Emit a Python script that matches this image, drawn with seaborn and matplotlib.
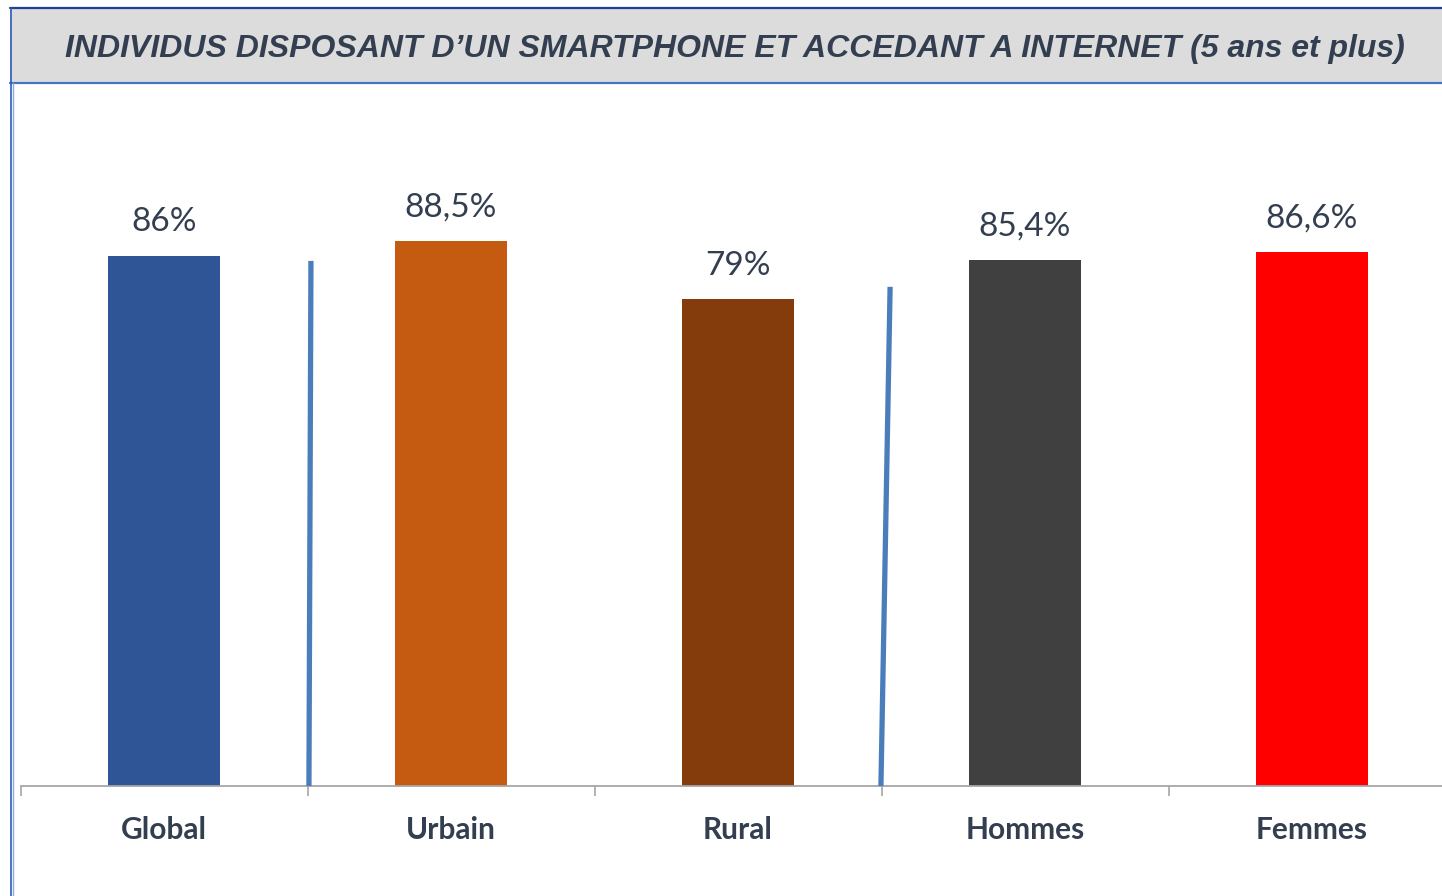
import pandas as pd
import seaborn as sns
import matplotlib.pyplot as plt
from matplotlib.patches import Rectangle
from matplotlib.lines import Line2D

# Data
categories = ["Global", "Urbain", "Rural", "Hommes", "Femmes"]
values = [86.0, 88.5, 79.0, 85.4, 86.6]
value_labels = ["86%", "88,5%", "79%", "85,4%", "86,6%"]
bar_colors = ["#2F5597", "#C55A11", "#843C0C", "#404040", "#FF0000"]

# Blue separator strokes (x in category units, y in %)
sep_x_top = [0.512, 2.530]
sep_x_bottom = [0.505, 2.498]
sep_y_top = [85.2, 81.0]

TITLE = "INDIVIDUS DISPOSANT D\u2019UN SMARTPHONE ET ACCEDANT A INTERNET (5 ans et plus)"
TEXT_COLOR = "#333F50"

sns.set_style("white")
plt.rcParams['font.family'] = ['Lato', 'DejaVu Sans']

W, H = 1442, 896
fig = plt.figure(figsize=(W / 100, H / 100), dpi=100)

# axes placed in pixel terms: baseline at y=786, left boundary at x=20.5
px_per_cat = 287
px_per_pct = 6.163
left_px, base_px = 20.5, 786
ymax = 110
ax = fig.add_axes([left_px / W, (H - base_px) / H, (W - left_px) / W, ymax * px_per_pct / H])

df = pd.DataFrame({"cat": categories, "val": values})
sns.barplot(data=df, x="cat", y="val", hue="cat", palette=bar_colors,
            width=0.39, legend=False, ax=ax, saturation=1, linewidth=0)

for i, (v, lab) in enumerate(zip(values, value_labels)):
    ax.text(i, v + 3.0, lab, ha="center", va="bottom", fontsize=24,
            color=TEXT_COLOR)

for xt, xb, yt in zip(sep_x_top, sep_x_bottom, sep_y_top):
    ax.plot([xb, xt], [0, yt], color="#4A7EBB", lw=3.8, solid_capstyle="butt",
            zorder=3)

# axis styling
for s in ["top", "right", "left"]:
    ax.spines[s].set_visible(False)
ax.spines["bottom"].set_color("#A6A6A6")
ax.spines["bottom"].set_linewidth(1.3)
ax.set_yticks([])
ax.set_xlabel("")
ax.set_ylabel("")
ax.set_xticks(range(len(categories)))
ax.set_xticklabels(categories, fontsize=21.5, fontweight="bold", color=TEXT_COLOR)
ax.tick_params(axis="x", which="major", length=0, pad=21.5)
ax.set_xticks([i - 0.5 for i in range(len(categories) + 1)], minor=True)
ax.tick_params(axis="x", which="minor", bottom=True, length=7.5, width=1.2,
               color="#A6A6A6", direction="out")

# limits last so tick setting can't widen them
ax.set_xlim(-0.5, -0.5 + (W - left_px) / px_per_cat)
ax.set_ylim(0, ymax)

# title box
fig.patches.append(Rectangle((10 / W, 1 - 83 / H), (W - 10) / W, 75 / H,
                             transform=fig.transFigure, facecolor="#DCDCDC",
                             edgecolor="none", zorder=0))
fig.add_artist(Line2D([10 / W, 1], [1 - 8 / H] * 2, color="#1F3F99", lw=1.6))
fig.add_artist(Line2D([10 / W, 1], [1 - 83 / H] * 2, color="#4472C4", lw=1.6))
fig.add_artist(Line2D([10.5 / W] * 2, [0, 1 - 8 / H], color="#2F5BB7", lw=1.2))
fig.add_artist(Line2D([13 / W] * 2, [0, 1 - 83 / H], color="#8EA9DB", lw=1.0))

fig.text(735 / W, 1 - 49 / H, TITLE, ha="center", va="center", fontsize=23,
         fontweight="bold", fontstyle="italic", color=TEXT_COLOR,
         family=["Liberation Sans", "DejaVu Sans"])

fig.savefig("out.png", dpi=100)
